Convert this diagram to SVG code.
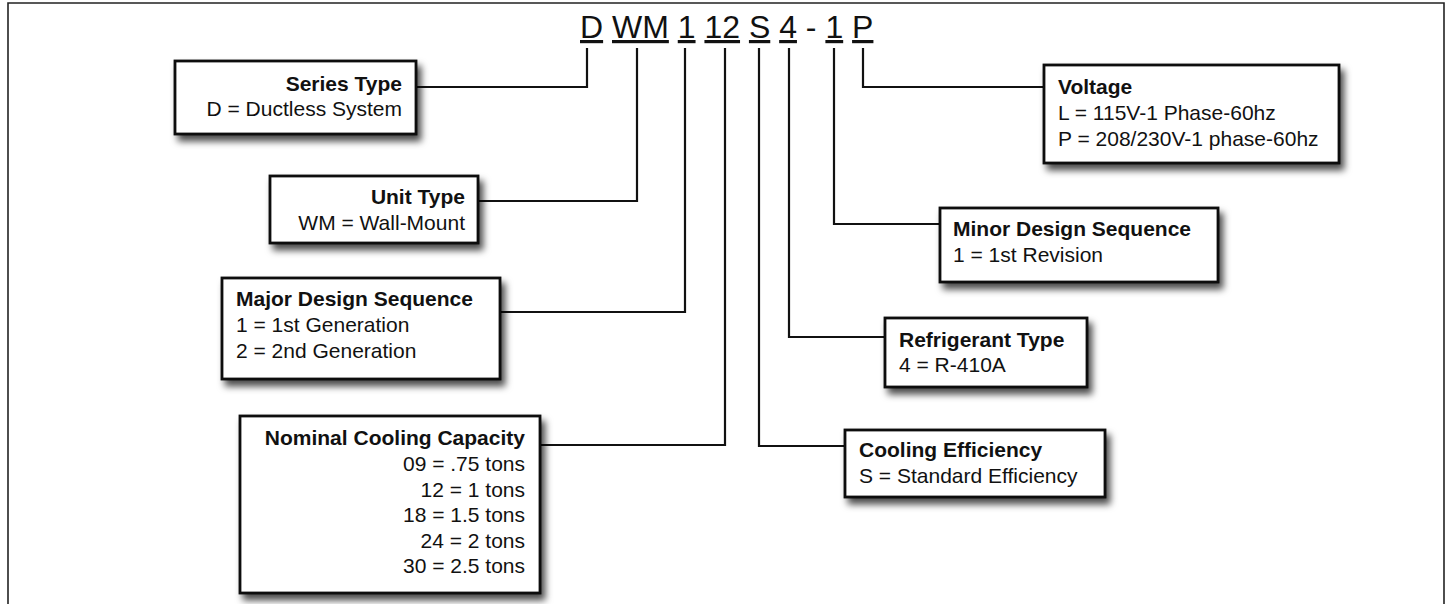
<svg xmlns="http://www.w3.org/2000/svg" width="1450" height="604" viewBox="0 0 1450 604">
<style>
.box{fill:#fff;stroke:#111;stroke-width:2.8;filter:url(#sh)}
.conn{fill:none;stroke:#111;stroke-width:2.2}
.t{font-family:"Liberation Sans",Arial,sans-serif;font-size:21px;fill:#111}
.b{font-weight:bold}
.code{font-family:"Liberation Sans",Arial,sans-serif;font-size:32px;fill:#111}
.u{text-decoration:underline}
</style>
<defs>
<filter id="sh" x="-10%" y="-20%" width="125%" height="150%">
<feDropShadow dx="4" dy="6" stdDeviation="3.5" flood-color="#000" flood-opacity="0.7"/>
</filter>
</defs>
<rect width="1450" height="604" fill="#fff"/>
<path d="M8,604 V3 H1444 V604" fill="none" stroke="#222" stroke-width="1.6"/>
<text class="code" x="580" y="38"><tspan class="u">D</tspan> <tspan class="u">WM</tspan> <tspan class="u">1</tspan> <tspan class="u">12</tspan> <tspan class="u">S</tspan> <tspan class="u">4</tspan> - <tspan class="u">1</tspan> <tspan class="u">P</tspan></text>
<g id="connectors">
<path class="conn" d="M587,48 V87 H416"/>
<path class="conn" d="M637,48 V201 H478"/>
<path class="conn" d="M685,48 V312 H500"/>
<path class="conn" d="M725,48 V445 H540"/>
<path class="conn" d="M759,48 V446 H845"/>
<path class="conn" d="M789,48 V337 H885"/>
<path class="conn" d="M834,48 V224 H940"/>
<path class="conn" d="M863,48 V87 H1044"/>
</g>
<g id="series-type">
<rect class="box" x="175" y="61" width="241" height="73"/>
<text class="t b" x="402" y="91" text-anchor="end">Series Type</text>
<text class="t" x="402" y="116" text-anchor="end">D = Ductless System</text>
</g>
<g id="unit-type">
<rect class="box" x="270" y="176" width="208" height="67"/>
<text class="t b" x="465" y="204" text-anchor="end">Unit Type</text>
<text class="t" x="465" y="230" text-anchor="end">WM = Wall-Mount</text>
</g>
<g id="major-design">
<rect class="box" x="222" y="278" width="278" height="101"/>
<text class="t b" x="236" y="306">Major Design Sequence</text>
<text class="t" x="236" y="332">1 = 1st Generation</text>
<text class="t" x="236" y="358">2 = 2nd Generation</text>
</g>
<g id="nominal-cooling">
<rect class="box" x="240" y="416" width="300" height="177"/>
<text class="t b" x="525" y="445" text-anchor="end">Nominal Cooling Capacity</text>
<text class="t" x="525" y="471" text-anchor="end">09 = .75 tons</text>
<text class="t" x="525" y="496.5" text-anchor="end">12 = 1 tons</text>
<text class="t" x="525" y="522" text-anchor="end">18 = 1.5 tons</text>
<text class="t" x="525" y="547.5" text-anchor="end">24 = 2 tons</text>
<text class="t" x="525" y="573" text-anchor="end">30 = 2.5 tons</text>
</g>
<g id="voltage">
<rect class="box" x="1044" y="65" width="295" height="98"/>
<text class="t b" x="1058" y="94">Voltage</text>
<text class="t" x="1058" y="120">L = 115V-1 Phase-60hz</text>
<text class="t" x="1058" y="146">P = 208/230V-1 phase-60hz</text>
</g>
<g id="minor-design">
<rect class="box" x="940" y="208" width="278" height="74"/>
<text class="t b" x="953" y="236">Minor Design Sequence</text>
<text class="t" x="953" y="262">1 = 1st Revision</text>
</g>
<g id="refrigerant">
<rect class="box" x="885" y="318" width="202" height="69"/>
<text class="t b" x="899" y="347">Refrigerant Type</text>
<text class="t" x="899" y="372">4 = R-410A</text>
</g>
<g id="cooling-efficiency">
<rect class="box" x="845" y="430" width="260" height="67"/>
<text class="t b" x="859" y="457">Cooling Efficiency</text>
<text class="t" x="859" y="483">S = Standard Efficiency</text>
</g>
</svg>
